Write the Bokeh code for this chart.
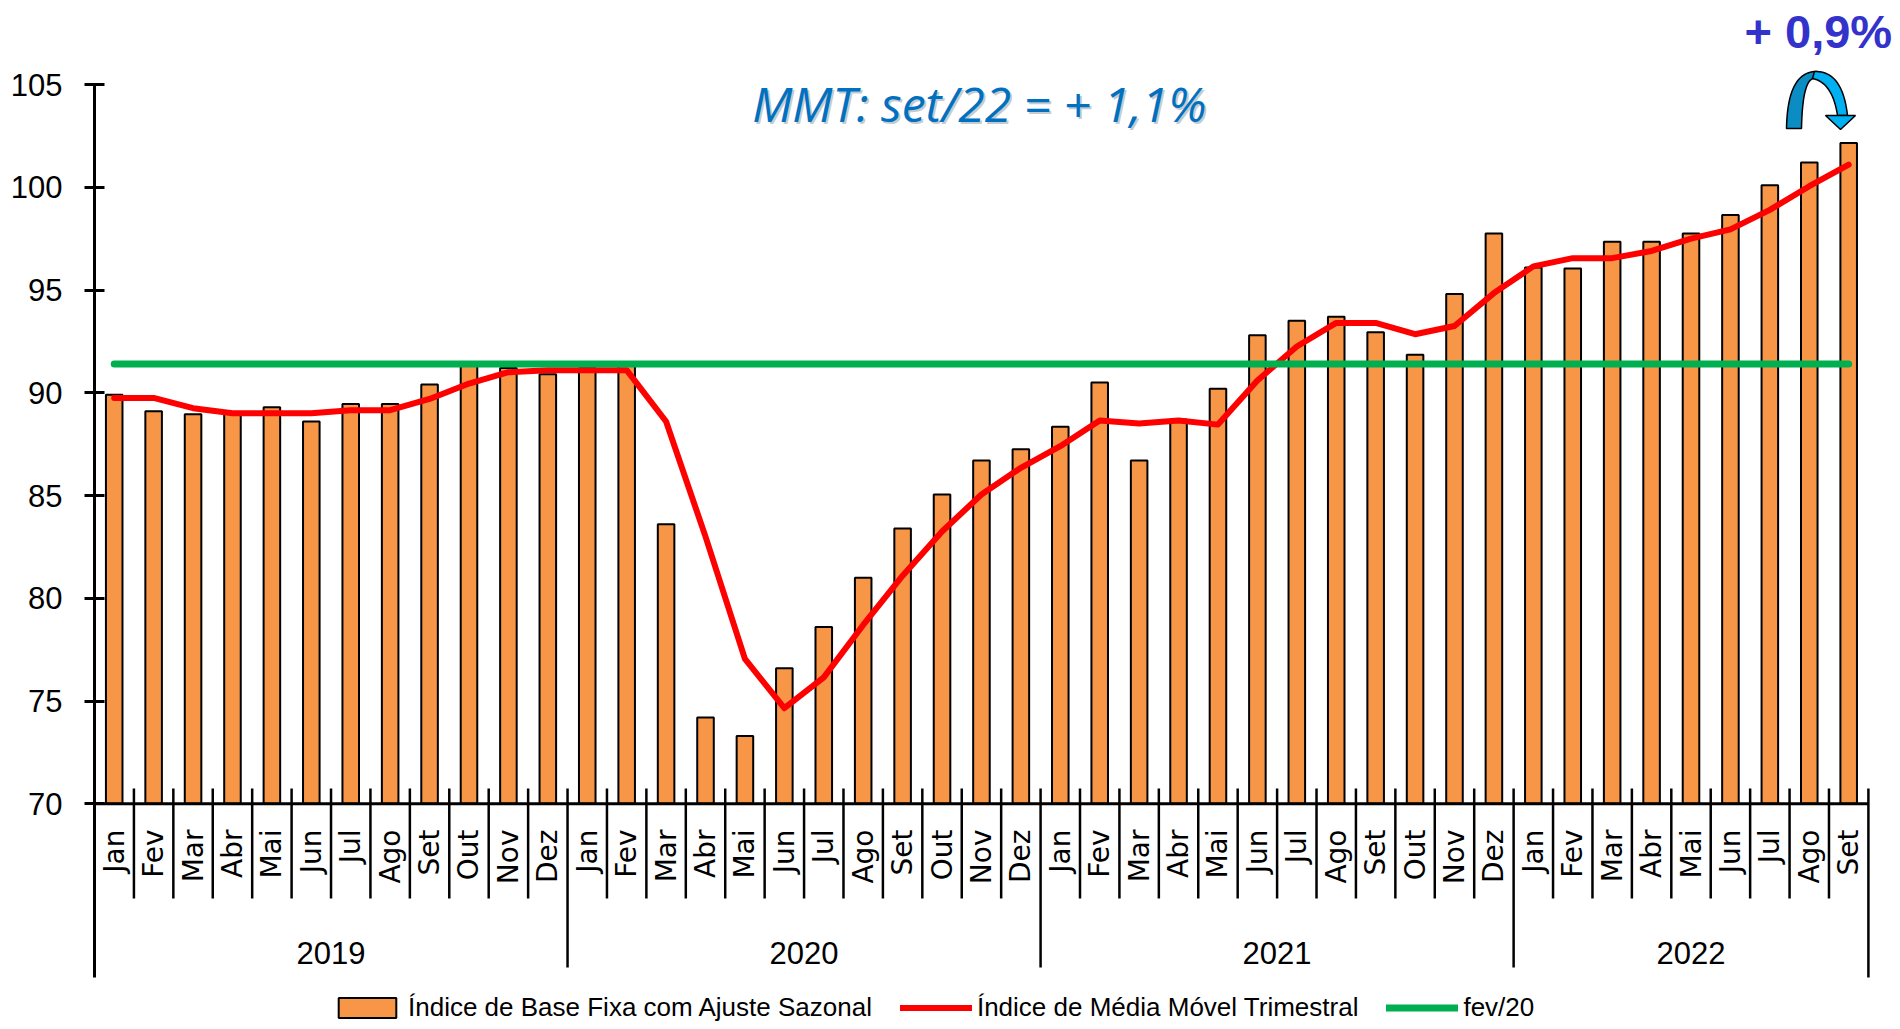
import numpy as np
from bokeh.plotting import figure
from bokeh.models import Range1d, FixedTicker, Legend, LegendItem
from bokeh.core.properties import value
from bokeh.embed import file_html
from bokeh.resources import INLINE

# ---------------- data ----------------
years = ["2019", "2020", "2021", "2022"]
months_per_year = [12, 12, 12, 9]
month_names = ["Jan", "Fev", "Mar", "Abr", "Mai", "Jun", "Jul", "Ago", "Set", "Out", "Nov", "Dez"]
months = [m for n in months_per_year for m in month_names[:n]]

indice = [89.9, 89.1, 88.95, 89.0, 89.3, 88.6, 89.45, 89.45, 90.4, 91.35, 91.2, 90.9,
          91.2, 91.4, 83.6, 74.2, 73.3, 76.6, 78.6, 81.0, 83.4, 85.05, 86.7, 87.25,
          88.35, 90.5, 86.7, 88.7, 90.2, 92.8, 93.5, 93.7, 92.95, 91.85, 94.8, 97.75,
          96.1, 96.05, 97.35, 97.35, 97.75, 98.65, 100.1, 101.2, 102.15]
mmt = [89.75, 89.75, 89.25, 89.0, 89.0, 89.0, 89.15, 89.15, 89.7, 90.45, 91.0, 91.1,
       91.1, 91.1, 88.6, 83.0, 77.05, 74.65, 76.15, 78.7, 81.1, 83.25, 85.05, 86.35,
       87.4, 88.65, 88.5, 88.65, 88.45, 90.6, 92.25, 93.4, 93.4, 92.85, 93.25, 94.85,
       96.15, 96.55, 96.55, 96.9, 97.5, 97.95, 98.9, 100.05, 101.1]
fev20 = 91.4
y_ticks = [70, 75, 80, 85, 90, 95, 100, 105]

legend_labels = ["Índice de Base Fixa com Ajuste Sazonal",
                 "Índice de Média Móvel Trimestral",
                 "fev/20"]
mmt_text = "MMT: set/22 =  + 1,1%"
var_text = "+ 0,9%"

# ---------------- geometry ----------------
W, H = 1900, 1029
LEFT = 94
PX_X = 39.42          # px per category
PX_Y = 20.551         # px per index unit
n = len(months)
x_idx = np.arange(n)

def sx(xs):  # screen x -> data x
    return (np.asarray(xs, dtype=float) - 94) / PX_X - 0.5

def sy(ys):  # screen y -> data y
    return 105 - (np.asarray(ys, dtype=float) - 84) / PX_Y

x_end = float(sx(W))
y_lo, y_hi = float(sy(H)), float(sy(0))

p = figure(width=W, height=H, output_backend="svg", toolbar_location=None,
           x_range=Range1d(-0.5, x_end), y_range=Range1d(y_lo, y_hi),
           x_axis_location=None, min_border=0, min_border_left=LEFT)
p.outline_line_color = None
p.grid.grid_line_color = None
p.background_fill_color = "white"

# y axis
ya = p.yaxis[0]
ya.ticker = FixedTicker(ticks=y_ticks)
ya.bounds = (float(sy(977)), 105)
ya.axis_line_width = 3
ya.major_tick_line_width = 3
ya.major_tick_in = 10
ya.major_tick_out = 10
ya.minor_tick_line_color = None
ya.major_label_text_font = "Liberation Sans"
ya.major_label_text_font_size = "31px"
ya.major_label_text_color = "black"
ya.major_label_standoff = 22

# bars
bars = p.vbar(x=x_idx, top=indice, bottom=70, width=0.42,
              fill_color="#F79646", line_color="black", line_width=2)

# lines
red = p.line(x_idx, mmt, line_color="#FF0000", line_width=6,
             line_cap="round", line_join="round")
green = p.line([x_idx[0], x_idx[-1]], [fev20, fev20], line_color="#00B050",
               line_width=7, line_cap="round")

# x axis line + separators
p.segment(x0=[-0.5], y0=[70], x1=[n - 0.5], y1=[70], line_color="black", line_width=3)
cum = np.cumsum(months_per_year)
bnd = np.arange(n) + 0.5
bottoms = []
for b in bnd:
    k = int(b + 0.5)
    if k == n:
        bottoms.append(float(sy(977)))
    elif k in cum:
        bottoms.append(float(sy(967)))
    else:
        bottoms.append(float(sy(898)))
p.segment(x0=bnd, y0=[float(sy(788))] * n, x1=bnd, y1=bottoms,
          line_color="black", line_width=2.5)

# month labels
p.text(x=x_idx, y=[float(sy(829))] * n, text=months, angle=np.pi / 2,
       text_align="right", text_baseline="middle",
       text_font=value("DejaVu Sans"), text_font_size="28px", text_color="black")

# year labels
starts = np.concatenate([[0], cum[:-1]])
centers = (starts + cum - 1) / 2.0
p.text(x=centers, y=[float(sy(952))] * len(years), text=years,
       text_align="center", text_baseline="alphabetic",
       text_font=value("Liberation Sans"), text_font_size="31px", text_color="black")

# annotations
p.text(x=[float(sx(987))], y=[float(sy(105))], text=[mmt_text], text_align="center",
       text_baseline="alphabetic", text_font=value("Open Sans"), text_font_style="italic",
       text_font_size="48px", text_color="#A0A8B0", text_alpha=0.6)
p.text(x=[float(sx(985))], y=[float(sy(103))], text=[mmt_text], text_align="center",
       text_baseline="alphabetic", text_font=value("Open Sans"), text_font_style="italic",
       text_font_size="48px", text_color="#0070C0")
p.text(x=[float(sx(1744))], y=[float(sy(31))], text=[var_text], text_align="left",
       text_baseline="alphabetic", text_font=value("Liberation Sans"), text_font_style="bold",
       text_font_size="47px", text_color="#3333CC")

# curved arrow (decoration)
def qbez(p0, p1, p2, m=24):
    t = np.linspace(0, 1, m)
    x = (1 - t) ** 2 * p0[0] + 2 * (1 - t) * t * p1[0] + t ** 2 * p2[0]
    y = (1 - t) ** 2 * p0[1] + 2 * (1 - t) * t * p1[1] + t ** 2 * p2[1]
    return x, y

lo_x, lo_y = qbez((1786, 128), (1787, 70), (1817, 71))
li_x, li_y = qbez((1813, 78), (1802, 80), (1801, 128))
left_x = np.concatenate([lo_x, li_x]); left_y = np.concatenate([lo_y, li_y])
ro_x, ro_y = qbez((1814, 71), (1842, 70), (1847, 115))
ri_x, ri_y = qbez((1837, 115), (1832, 82), (1812, 78))
right_x = np.concatenate([ro_x, ri_x]); right_y = np.concatenate([ro_y, ri_y])
p.patch(sx(left_x), sy(left_y), fill_color="#0B8DC4", line_color="black", line_width=1.5)
p.patch(sx(right_x), sy(right_y), fill_color="#00B0F0", line_color="black", line_width=1.5)
p.patch(sx([1825, 1855, 1840]), sy([115, 115, 129]), fill_color="#00B0F0",
        line_color="black", line_width=1.5)

# legend
legend = Legend(items=[LegendItem(label=legend_labels[0], renderers=[bars]),
                       LegendItem(label=legend_labels[1], renderers=[red]),
                       LegendItem(label=legend_labels[2], renderers=[green])],
                location=(237, 6), orientation="horizontal",
                glyph_width=72, glyph_height=25, label_standoff=5, spacing=28,
                padding=2, margin=0, border_line_color=None, background_fill_alpha=0,
                label_text_font="Liberation Sans", label_text_font_size="26px",
                label_text_color="black", label_height=25)
p.add_layout(legend)

open("out.html", "w").write(file_html(p, INLINE))
